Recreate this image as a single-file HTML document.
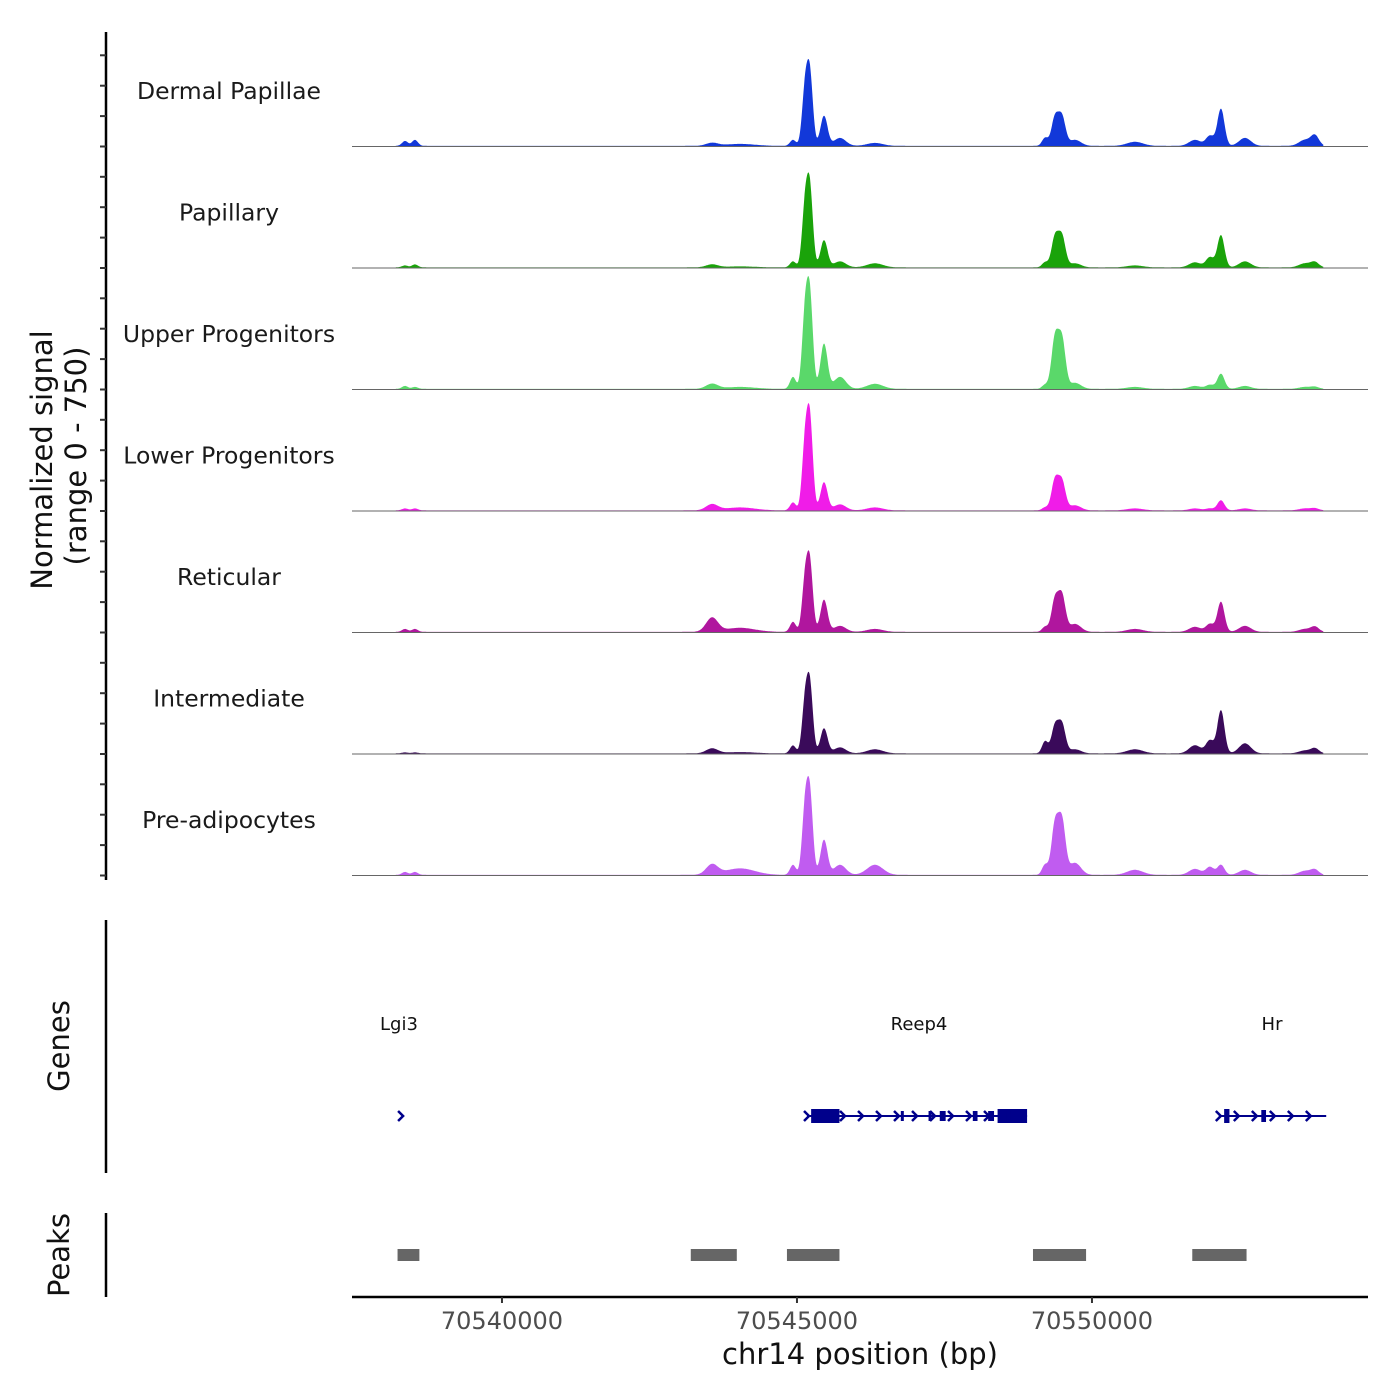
<!DOCTYPE html>
<html><head><meta charset="utf-8"><style>
body{margin:0;background:#fff}
svg{display:block;font-family:"DejaVu Sans","Liberation Sans",sans-serif}
</style></head><body>
<svg id="chart" width="1400" height="1400" viewBox="0 0 1400 1400">
<g id="tracks"></g>
<g id="yaxis">
<line x1="106" y1="32" x2="106" y2="880" stroke="#000" stroke-width="2.5"/>
</g>
<text transform="translate(52,460) rotate(-90)" text-anchor="middle" font-size="29" fill="#111">Normalized signal</text>
<text transform="translate(86,456) rotate(-90)" text-anchor="middle" font-size="29" fill="#111">(range 0 - 750)</text>

<g>
<line x1="106" y1="920" x2="106" y2="1173" stroke="#000" stroke-width="2.5"/>
<text transform="translate(69,1046) rotate(-90)" text-anchor="middle" font-size="29" fill="#111">Genes</text>
<text x="399" y="1030" text-anchor="middle" font-size="18" fill="#111">Lgi3</text>
<text x="919" y="1030" text-anchor="middle" font-size="18" fill="#111">Reep4</text>
<text x="1272" y="1030" text-anchor="middle" font-size="18" fill="#111">Hr</text>
<g id="genes" stroke="#00008b" fill="#00008b"></g>
</g>

<g>
<line x1="106" y1="1213" x2="106" y2="1297" stroke="#000" stroke-width="2.5"/>
<text transform="translate(69,1255) rotate(-90)" text-anchor="middle" font-size="29" fill="#111">Peaks</text>
<g id="peaks" fill="#666"></g>
</g>

<g id="xaxis">
<line x1="352" y1="1297" x2="1368" y2="1297" stroke="#000" stroke-width="2.5"/>
</g>
<text x="860" y="1364" text-anchor="middle" font-size="29" fill="#111">chr14 position (bp)</text>
</svg>
<script>
const trackNames = ["Dermal Papillae","Papillary","Upper Progenitors","Lower Progenitors","Reticular","Intermediate","Pre-adipocytes"];
const trackColors = ["#1238d9","#1aa30a","#5ad86a","#f01ce8","#b0169e","#3a0a5a","#c05cf0"];
const peakPositions = [70538356,70538525,70543560,70544034,70544932,70545136,70545221,70545458,70545729,70546322,70549204,70549373,70549492,70549712,70550729,70551746,70552000,70552186,70552593,70553610,70553780];
const peakWidthBp = [50,50,100,250,50,50,50,60,100,135,50,60,60,100,135,100,68,60,100,100,68];
const dermalPapillae = [30,37,18,12,37,340,420,185,49,18,49,173,173,37,25,37,62,228,49,37,62];
const papillary = [12,18,18,6,37,370,460,167,37,25,31,185,185,25,12,31,62,198,37,25,31];
const upperProgenitors = [18,12,31,12,74,450,540,278,74,31,25,309,296,37,12,18,25,93,18,12,12];
const lowerProgenitors = [12,12,37,18,49,400,530,173,37,18,18,185,173,31,12,12,12,62,12,12,12];
const reticular = [18,18,86,25,62,310,400,198,37,18,31,198,216,49,18,31,49,185,37,18,31];
const intermediate = [6,6,30,8,49,310,400,154,37,25,74,167,173,25,25,50,80,265,62,18,30];
const preAdipocytes = [18,18,62,40,62,400,470,216,62,62,62,309,321,74,31,37,49,62,31,25,31];
const trackValues = [dermalPapillae,papillary,upperProgenitors,lowerProgenitors,reticular,intermediate,preAdipocytes];
const signalStart = 70538200, signalEnd = 70553920;
const xTicks = [70540000,70545000,70550000];
const peakRegions = [[70538230,70538600],[70543200,70543980],[70544830,70545720],[70549000,70549900],[70551700,70552620]];
const geneNames = ["Lgi3","Reep4","Hr"];
const geneSpans = [[70538290,70538330],[70545170,70548900],[70552150,70553970]];
const geneExons = [[],[[70545240,70545720,14],[70548400,70548900,14],[70546760,70546800,10],[70547230,70547270,10],[70547420,70547520,10],[70547980,70548060,10],[70548240,70548340,10],[70548550,70548620,10]],[[70552240,70552330,14],[70552870,70552950,12]]];

const NS="http://www.w3.org/2000/svg";
const x0=352, bp0=70537458, pxPerBp=0.059;
function xs(bp){return x0+(bp-bp0)*pxPerBp;}
const trackTop=25, trackH=121.5, vMax=750;
function ys(i,v){return trackTop+(i+1)*trackH-v*trackH/vMax;}
function mk(tag,attrs,parent){const e=document.createElementNS(NS,tag);for(const k in attrs)e.setAttribute(k,attrs[k]);parent.appendChild(e);return e;}

const gT=document.getElementById('tracks');
const gY=document.getElementById('yaxis');
trackNames.forEach((name,i)=>{
  const vals=trackValues[i];
  let d='M'+xs(signalStart).toFixed(1)+','+ys(i,0).toFixed(1);
  for(let bp=signalStart;bp<=signalEnd;bp+=10){
    let v=4;
    for(let k=0;k<peakPositions.length;k++){const z=(bp-peakPositions[k])/peakWidthBp[k];v+=vals[k]*Math.exp(-0.5*z*z);}
    d+='L'+xs(bp).toFixed(1)+','+ys(i,Math.min(v,vMax)).toFixed(1);
  }
  d+='L'+xs(signalEnd).toFixed(1)+','+ys(i,0).toFixed(1)+'Z';
  const p=mk('path',{d:d,fill:trackColors[i]},gT);
  
  
  const bl=mk('line',{x1:352,x2:1368,y1:ys(i,0),y2:ys(i,0),stroke:'#666','stroke-width':1},gT);
  
  
  const t=mk('text',{x:229,y:trackTop+i*trackH+74,'text-anchor':'middle','font-size':23.5,fill:'#1a1a1a'},gT);
  t.textContent=name;
  
  
  for(let k=0;k<4;k++){
    const yy=ys(i,0)-k*30.4;
    const tk=mk('line',{x1:100,x2:106,y1:yy,y2:yy,stroke:'#333','stroke-width':2},gY);
    
    
  }
});

const gX=document.getElementById('xaxis');
xTicks.forEach(v=>{
  const l=mk('line',{x1:xs(v),x2:xs(v),y1:1297,y2:1303,stroke:'#333','stroke-width':2},gX);
  
  
  const t=mk('text',{x:xs(v),y:1329,'text-anchor':'middle','font-size':24,fill:'#4d4d4d'},gX);
  t.textContent=v;
  
  
});

const gP=document.getElementById('peaks');
peakRegions.forEach(r=>{
  const b=mk('rect',{x:xs(r[0]),y:1249,width:xs(r[1])-xs(r[0]),height:12},gP);
  
  
});

const gG=document.getElementById('genes');
const gy=1116;
geneSpans.forEach((s,i)=>{
  const x1=xs(s[0]),x2=xs(s[1]);
  const g=mk('g',{},gG);
  
  
  if(x2-x1>10) mk('line',{x1:x1,x2:x2,y1:gy,y2:gy,'stroke-width':2},g);
  const step=(x2-x1)>10?18:1;
  for(let ax=x1;ax<=x2;ax+=step){
    mk('path',{d:`M${ax-3},${gy-5}L${ax+2},${gy}L${ax-3},${gy+5}`,fill:'none','stroke-width':2.5},g);
    if(step===1)break;
  }
  geneExons[i].forEach(e=>{
    mk('rect',{x:xs(e[0]),y:gy-e[2]/2,width:Math.max(3,xs(e[1])-xs(e[0])),height:e[2],stroke:'none'},g);
  });
});
</script>
</body></html>
